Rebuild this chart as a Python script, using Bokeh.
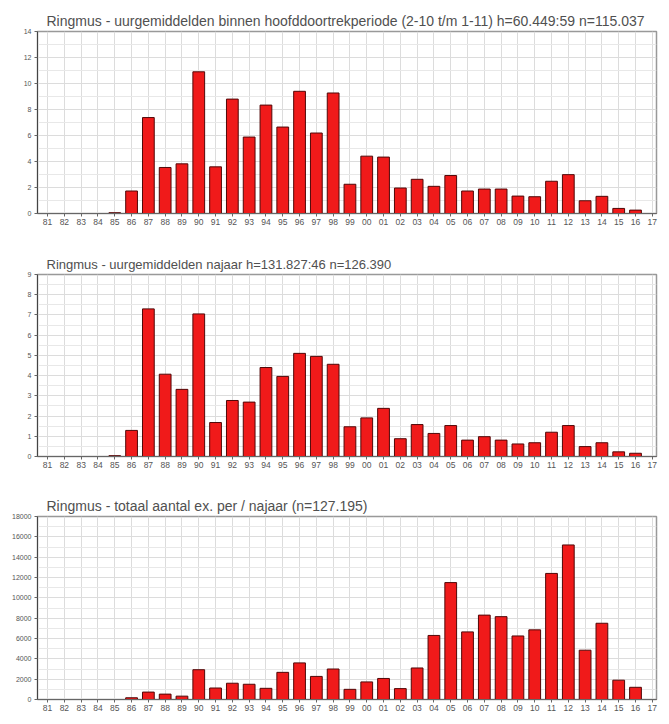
import numpy as np
from bokeh.plotting import figure
from bokeh.layouts import column
from bokeh.models import Range1d, FixedTicker
from bokeh.embed import file_html
from bokeh.resources import INLINE

years = ["81","82","83","84","85","86","87","88","89","90","91","92","93","94","95","96","97","98","99",
         "00","01","02","03","04","05","06","07","08","09","10","11","12","13","14","15","16","17"]

uur_hoofd = [0, 0, 0, 0, 0.06, 1.73, 7.38, 3.54, 3.82, 10.9, 3.59, 8.8, 5.88, 8.34, 6.65, 9.4, 6.19, 9.27,
             2.25, 4.41, 4.34, 1.96, 2.63, 2.09, 2.92, 1.73, 1.88, 1.88, 1.34, 1.29, 2.48, 2.99, 0.98, 1.32,
             0.39, 0.26, 0]

uur_najaar = [0, 0, 0, 0, 0.04, 1.29, 7.3, 4.07, 3.32, 7.05, 1.68, 2.77, 2.69, 4.4, 3.96, 5.1, 4.95, 4.56,
              1.47, 1.91, 2.38, 0.88, 1.58, 1.14, 1.53, 0.81, 0.98, 0.81, 0.62, 0.68, 1.2, 1.53, 0.49, 0.68,
              0.23, 0.16, 0]

totaal = [0, 0, 0, 0, 0, 170, 730, 530, 330, 2930, 1130, 1600, 1500, 1100, 2670, 3600, 2270, 3000,
          1000, 1730, 2070, 1070, 3100, 6300, 11500, 6650, 8300, 8150, 6250, 6850, 12400, 15200, 4850, 7500,
          1900, 1200, 0]

titles = [
    "Ringmus - uurgemiddelden binnen hoofddoortrekperiode (2-10 t/m 1-11) h=60.449:59 n=115.037",
    "Ringmus - uurgemiddelden najaar h=131.827:46 n=126.390",
    "Ringmus - totaal aantal ex. per / najaar (n=127.195)",
]
ymax = [14, 9, 18000]
ystep = [2, 1, 2000]

FONT = "Liberation Sans"


def make_panel(vals, title, tsize, top, step, border_top, border_bottom, frame_h):
    x = np.arange(len(years))
    p = figure(output_backend="svg", toolbar_location=None,
               frame_width=619, frame_height=frame_h,
               min_border_left=37, min_border_right=5,
               min_border_top=border_top, min_border_bottom=border_bottom,
               x_range=Range1d(-0.6, len(years) - 1 + 0.25),
               y_range=Range1d(0, top))
    p.title.text = title
    p.title.text_font = FONT
    p.title.text_font_size = tsize
    p.title.text_font_style = "normal"
    p.title.text_color = "#505050"
    p.title.offset = 9
    p.title.standoff = 5

    p.vbar(x=x, top=vals, width=0.7, fill_color="#f01a1a",
           line_color="#500808", line_width=1)

    p.xaxis.ticker = FixedTicker(ticks=list(range(len(years))))
    p.xaxis.major_label_overrides = {i: y for i, y in enumerate(years)}
    p.xaxis.major_label_text_font = FONT
    p.xaxis.major_label_text_font_size = "8.5px"
    p.xaxis.major_label_text_color = "#555555"
    p.xaxis.major_tick_out = 3
    p.xaxis.major_tick_in = 0
    p.xaxis.minor_tick_line_color = None
    p.xaxis.axis_line_color = "#666666"
    p.xaxis.major_tick_line_color = "#666666"
    p.xaxis.major_label_standoff = 2

    yt = list(range(0, top + 1, step))
    ym = [v + step / 2 for v in range(0, top, step)]
    p.yaxis.ticker = FixedTicker(ticks=yt, minor_ticks=ym)
    p.yaxis.major_label_text_font = FONT
    p.yaxis.major_label_text_font_size = "7px"
    p.yaxis.major_label_text_color = "#555555"
    p.yaxis.major_tick_out = 3
    p.yaxis.major_tick_in = 0
    p.yaxis.minor_tick_line_color = None
    p.yaxis.axis_line_color = "#444444"
    p.yaxis.major_tick_line_color = "#666666"
    p.yaxis.major_label_standoff = 2

    p.xgrid.grid_line_color = "#dcdcdc"
    p.ygrid.grid_line_color = "#dcdcdc"
    p.ygrid.minor_grid_line_color = "#e8e8e8"

    p.outline_line_color = "#999999"
    p.outline_line_width = 1.5
    p.background_fill_color = "white"
    p.border_fill_color = "white"
    return p


p1 = make_panel(uur_hoofd, titles[0], "14px", ymax[0], ystep[0], 31, 30, 182)
p2 = make_panel(uur_najaar, titles[1], "13px", ymax[1], ystep[1], 31, 30, 182)
p3 = make_panel(totaal, titles[2], "14px", ymax[2], ystep[2], 30, 14, 183)

layout = column(p1, p2, p3, spacing=0)

open("out.html", "w").write(file_html(layout, INLINE))
